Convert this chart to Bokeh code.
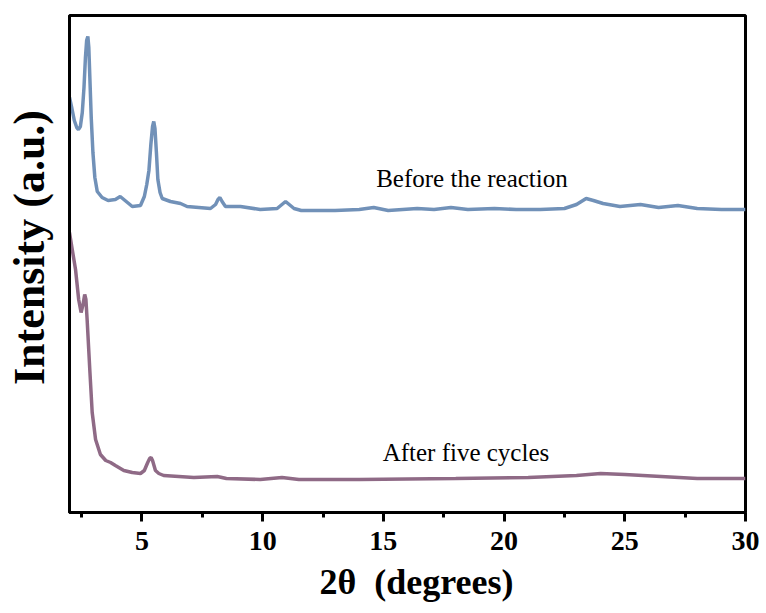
from bokeh.plotting import figure
from bokeh.models import Range1d, FixedTicker, Label
from bokeh.embed import file_html
from bokeh.resources import INLINE

# 2-theta (degrees) and intensity (a.u.)
before_2theta = [2.0, 2.1, 2.2, 2.3, 2.37, 2.45, 2.53, 2.6, 2.66, 2.71, 2.76, 2.8, 2.85, 2.9, 2.97,
                 3.05, 3.15, 3.35, 3.6, 3.9, 4.1, 4.3, 4.6, 4.94, 5.1, 5.2, 5.29, 5.37, 5.44, 5.49,
                 5.54, 5.6, 5.66, 5.75, 5.84, 6.18, 6.6, 6.87, 7.84, 8.05, 8.15, 8.23, 8.32, 8.46,
                 9.08, 9.9, 10.6, 10.85, 10.95, 11.1, 11.3, 11.6, 13.0, 14.0, 14.6, 15.2, 16.4, 17.1,
                 17.8, 18.5, 19.6, 20.5, 21.5, 22.5, 23.0, 23.4, 23.7, 24.1, 24.8, 25.65, 26.4,
                 27.2, 28.0, 29.0, 30.0]
before_int = [415, 404, 392, 385, 383, 386, 400, 425, 455, 472, 476, 465, 430, 395, 360,
              335, 321, 315, 312, 313, 316, 312, 306, 307, 316, 328, 342, 368, 386, 391,
              384, 360, 333, 320, 314, 311, 309, 306, 304, 308, 313, 315, 311, 306,
              306, 303, 304, 309, 311, 308, 304, 302, 302, 303, 305, 302, 304, 303,
              305, 303, 304, 303, 303, 304, 308, 314, 312, 309, 306, 308, 305,
              307, 304, 303, 303]

after_2theta = [2.0, 2.1, 2.25, 2.38, 2.48, 2.56, 2.63, 2.68, 2.73, 2.84, 2.94, 3.08, 3.28, 3.5,
                3.7, 3.9, 4.25, 4.6, 4.94, 5.1, 5.24, 5.32, 5.38, 5.44, 5.5, 5.56, 5.7, 5.9,
                7.15, 8.12, 8.5, 9.9, 10.8, 11.5, 14.0, 18.0, 21.0, 23.0, 24.0, 25.0, 26.5,
                28.0, 30.0]
after_int = [280, 265, 243, 213, 200, 208, 218, 213, 193, 143, 100, 73, 58, 52,
             50, 47, 42, 40, 39, 42, 50, 54, 55, 52, 47, 42, 39, 37,
             35, 36, 34, 33, 35, 33, 33, 34, 35, 37, 39, 38, 36,
             34, 34]

x_ticks = [5, 10, 15, 20, 25, 30]
x_minor = [2.5, 7.5, 12.5, 17.5, 22.5, 27.5]

SERIF = "Liberation Serif"
NB = "\u00a0"

p = figure(width=759, height=605, output_backend="svg", toolbar_location=None,
           x_range=Range1d(2, 30), y_range=Range1d(0, 497),
           min_border_left=69, min_border_right=14, min_border_top=15, min_border_bottom=93)
p.xgrid.visible = False
p.ygrid.visible = False
p.outline_line_color = "black"
p.outline_line_width = 3
p.background_fill_color = "white"

p.line(before_2theta, before_int, line_color="#7191B8", line_width=3.5)
p.line(after_2theta, after_int, line_color="#8F6A86", line_width=3.5)

p.add_layout(Label(x=18.67, y=334, text="Before the reaction", text_align="center",
                   text_baseline="alphabetic", text_font=SERIF, text_font_size="25px",
                   text_color="black"))
p.add_layout(Label(x=18.42, y=60, text="After five cycles", text_align="center",
                   text_baseline="alphabetic", text_font=SERIF, text_font_size="25px",
                   text_color="black"))

# x axis
xa = p.xaxis[0]
xa.ticker = FixedTicker(ticks=x_ticks, minor_ticks=x_minor)
xa.axis_line_width = 3
xa.major_tick_line_width = 3
xa.major_tick_out = 9
xa.major_tick_in = 0
xa.minor_tick_line_width = 3
xa.minor_tick_out = 5
xa.minor_tick_in = 0
xa.major_label_text_font = SERIF
xa.major_label_text_font_style = "bold"
xa.major_label_text_font_size = "28px"
xa.major_label_text_color = "black"
xa.major_label_standoff = 10
xa.axis_label = NB + NB + "2\u03b8" + NB + NB + "(degrees)"
xa.axis_label_text_font = SERIF
xa.axis_label_text_font_style = "bold"
xa.axis_label_text_font_size = "36px"
xa.axis_label_text_color = "black"
xa.axis_label_standoff = 9

# y axis
ya = p.yaxis[0]
ya.axis_line_width = 3
ya.major_tick_line_color = None
ya.minor_tick_line_color = None
ya.major_label_text_font_size = "0px"
ya.axis_label = NB + NB + NB + "Intensity (a.u.)"
ya.axis_label_text_font = SERIF
ya.axis_label_text_font_style = "bold"
ya.axis_label_text_font_size = "44px"
ya.axis_label_text_color = "black"
ya.axis_label_standoff = 10

open("out.html", "w").write(file_html(p, INLINE))
